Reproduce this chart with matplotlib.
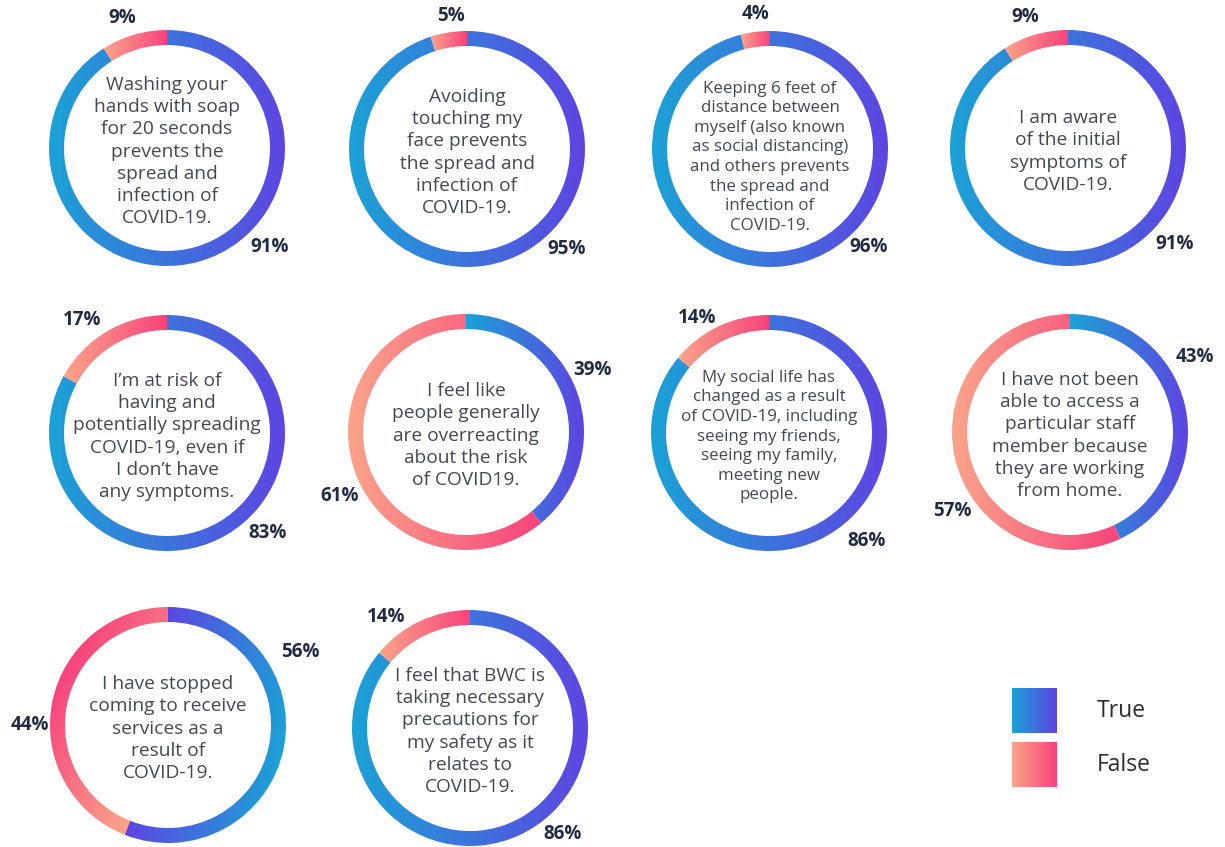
import numpy as np
import matplotlib
matplotlib.use("Agg")
import matplotlib.pyplot as plt
from matplotlib.colors import LinearSegmentedColormap

plt.rcParams['font.family'] = ['Open Sans', 'DejaVu Sans']

# Data
statements = [
    "Washing your\nhands with soap\nfor 20 seconds\nprevents the\nspread and\ninfection of\nCOVID-19.",
    "Avoiding\ntouching my\nface prevents\nthe spread and\ninfection of\nCOVID-19.",
    "Keeping 6 feet of\ndistance between\nmyself (also known\nas social distancing)\nand others prevents\nthe spread and\ninfection of\nCOVID-19.",
    "I am aware\nof the initial\nsymptoms of\nCOVID-19.",
    "I\u2019m at risk of\nhaving and\npotentially spreading\nCOVID-19, even if\nI don\u2019t have\nany symptoms.",
    "I feel like\npeople generally\nare overreacting\nabout the risk\nof COVID19.",
    "My social life has\nchanged as a result\nof COVID-19, including\nseeing my friends,\nseeing my family,\nmeeting new\npeople.",
    "I have not been\nable to access a\nparticular staff\nmember because\nthey are working\nfrom home.",
    "I have stopped\ncoming to receive\nservices as a\nresult of\nCOVID-19.",
    "I feel that BWC is\ntaking necessary\nprecautions for\nmy safety as it\nrelates to\nCOVID-19.",
]
true_pct = [91, 95, 96, 91, 83, 39, 86, 43, 56, 86]
false_pct = [9, 5, 4, 9, 17, 61, 14, 57, 44, 14]
legend_labels = ["True", "False"]

# Layout (pixels)
W, H = 1225, 847
centers = [(167, 148), (467, 149), (770, 149), (1068, 148),
           (167, 433), (466, 432), (769, 433), (1070, 432),
           (168, 725), (470, 728)]
R_PX = 118
RING = 15 / R_PX
HALF = 1.32
# label placement: angle clockwise from 12 o'clock, distance in px
true_lab_ang = [134, 135, 135, 132, 135, 64, 138, 59, 61, 139]
true_lab_r = [142, 141, 139, 144, 142, 141, 146, 146, 151, 141]
false_lab_ang = [-19, -7, -6, -18, -37, -117, -32, -124, -90, -37]
false_lab_r = [138, 134, 136, 138, 141, 142, 136, 142, 138, 139]
# gradient direction per chart (degrees, light -> dark)
true_grad = [0, 0, 0, 0, 0, 0, 0, 0, 170, 0]
false_grad = [0, 0, 0, 0, 0, 0, 0, 0, 150, 0]
text_size = [13.8, 13.8, 12.2, 13.8, 13.8, 13.8, 12.2, 13.8, 13.8, 13.8]
text_dy = [-0.03, -0.03, -0.07, -0.03, -0.03, -0.03, -0.03, -0.03, -0.03, -0.03]

true_cmap = LinearSegmentedColormap.from_list("t", ["#1ba2d6", "#5e45e2"])
false_cmap = LinearSegmentedColormap.from_list("f", ["#fba48a", "#f8437c"])

fig = plt.figure(figsize=(W / 100, H / 100), dpi=100)
fig.patch.set_facecolor('white')

# legend in pixel coordinates
lax = fig.add_axes([0, 0, 1, 1])
grad = np.linspace(0, 1, 64)[None, :]
lax.imshow(grad, cmap=true_cmap, extent=(1012, 1057, 733, 688), aspect='auto')
lax.imshow(grad, cmap=false_cmap, extent=(1012, 1057, 787, 742), aspect='auto')
lax.text(1097, 711, legend_labels[0], ha='left', va='center', fontsize=16.5, color='#2d2d2d')
lax.text(1097, 765, legend_labels[1], ha='left', va='center', fontsize=16.5, color='#2d2d2d')
lax.set_xlim(0, W)
lax.set_ylim(H, 0)
lax.axis('off')

xs = np.linspace(-1, 1, 500)
X, Y = np.meshgrid(xs, xs)


def fill_gradient(ax, w, angle, cmap):
    g = np.deg2rad(angle)
    th = np.deg2rad(np.linspace(w.theta1, w.theta2, 300))
    pts = []
    for r in (w.r - w.width, w.r):
        pts.append(np.cos(g) * r * np.cos(th) + np.sin(g) * r * np.sin(th))
    pts = np.concatenate(pts)
    pmin, pmax = pts.min(), pts.max()
    P = X * np.cos(g) + Y * np.sin(g)
    T = np.clip((P - pmin) / (pmax - pmin), 0, 1)
    im = ax.imshow(T, cmap=cmap, vmin=0, vmax=1, extent=(-1, 1, -1, 1),
                   origin='lower', interpolation='bilinear', zorder=1)
    im.set_clip_path(w)


for i in range(len(statements)):
    cx, cy = centers[i]
    s = R_PX * HALF
    ax = fig.add_axes([(cx - s) / W, (H - cy - s) / H, 2 * s / W, 2 * s / H])
    wedges, _ = ax.pie([true_pct[i], false_pct[i]], startangle=90, counterclock=False,
                       radius=1, wedgeprops=dict(width=RING, linewidth=0, facecolor='none'))
    fill_gradient(ax, wedges[0], true_grad[i], true_cmap)
    fill_gradient(ax, wedges[1], false_grad[i], false_cmap)

    ax.text(0, text_dy[i], statements[i], ha='center', va='center', multialignment='center',
            fontsize=text_size[i], color='#424856', linespacing=1.3)

    for val, a, r in [(true_pct[i], true_lab_ang[i], true_lab_r[i]),
                      (false_pct[i], false_lab_ang[i], false_lab_r[i])]:
        rr = r / R_PX
        ax.text(rr * np.sin(np.deg2rad(a)), rr * np.cos(np.deg2rad(a)), f"{val}%",
                ha='center', va='center', fontsize=13.5, fontweight='bold', color='#1f2b45')

    ax.set_xlim(-HALF, HALF)
    ax.set_ylim(-HALF, HALF)
    ax.set_aspect('equal')
    ax.axis('off')

fig.savefig("out.png", dpi=100, facecolor='white')
